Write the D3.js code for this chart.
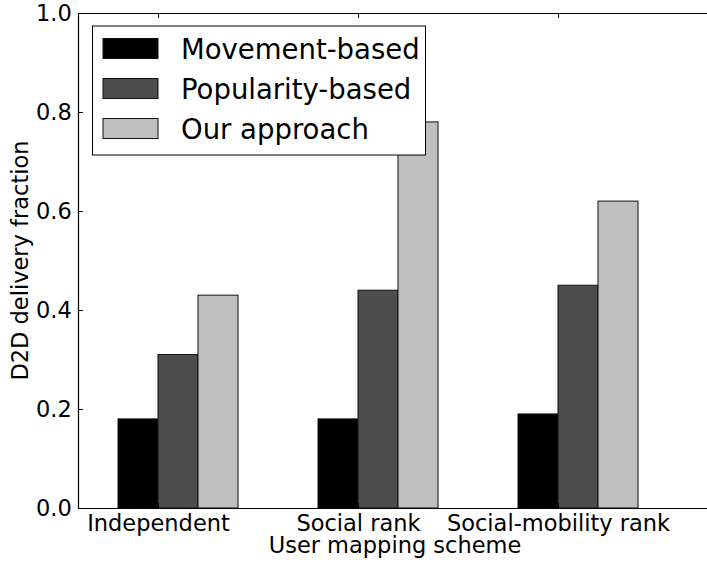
<!DOCTYPE html>
<html>
<head>
<meta charset="utf-8">
<script src="https://cdn.jsdelivr.net/npm/d3@7"></script>
<style>
  html, body { margin: 0; padding: 0; background: #fff; }
  svg { display: block; font-family: "DejaVu Sans", sans-serif; }
</style>
</head>
<body>
<svg id="chart" width="707" height="569"></svg>
<script>
const categories = ["Independent", "Social rank", "Social-mobility rank"];
const seriesNames = ["Movement-based", "Popularity-based", "Our approach"];
const movementBased = [0.18, 0.18, 0.19];
const popularityBased = [0.31, 0.44, 0.45];
const ourApproach = [0.43, 0.78, 0.62];
const yTicks = [0.0, 0.2, 0.4, 0.6, 0.8, 1.0];
const seriesColors = ["#000000", "#4d4d4d", "#bfbfbf"];

const series = [movementBased, popularityBased, ourApproach];

const svg = d3.select("#chart");
const plotL = 78, plotR = 712, plotT = 13, plotB = 508;
const barW = 0.2;

const x = d3.scaleLinear().domain([0, 3.17]).range([plotL, plotR]);
const y = d3.scaleLinear().domain([0, 1]).range([plotB, plotT]);

// bars
series.forEach((vals, s) => {
  svg.append("g").selectAll("rect")
    .data(vals)
    .join("rect")
    .attr("x", (d, i) => x(i + 0.2 + s * barW))
    .attr("width", x(barW) - x(0))
    .attr("y", d => y(d))
    .attr("height", d => y(0) - y(d))
    .attr("fill", seriesColors[s])
    .attr("stroke", "#111")
    .attr("stroke-width", 1);
});

// axes
const tickPos = categories.map((c, i) => i + 0.2 + barW);
const xAxis = d3.axisBottom(x).tickValues(tickPos)
  .tickFormat((d, i) => categories[i]).tickSizeInner(-5).tickSizeOuter(0).tickPadding(7);
const gx = svg.append("g").attr("transform", `translate(0,${plotB})`).call(xAxis);
const xTop = d3.axisTop(x).tickValues(tickPos).tickFormat("").tickSizeInner(-5).tickSizeOuter(0);
const gxt = svg.append("g").attr("transform", `translate(0,${plotT})`).call(xTop);

const yAxis = d3.axisLeft(y).tickValues(yTicks).tickFormat(d3.format(".1f"))
  .tickSizeInner(-5).tickSizeOuter(0).tickPadding(4);
const gy = svg.append("g").attr("transform", `translate(${plotL},0)`).call(yAxis);

[gx, gxt, gy].forEach(g => {
  g.selectAll("path.domain").attr("stroke", "#000").attr("stroke-width", 1.2);
  g.selectAll(".tick line").attr("stroke", "#000").attr("stroke-width", 1);
  g.selectAll(".tick text").attr("font-family", "DejaVu Sans").attr("font-size", 22.5).attr("fill", "#000");
});
gy.selectAll(".tick text").attr("dx", "-0.1em");

// axis labels
svg.append("text")
  .attr("x", (plotL + plotR) / 2).attr("y", 553)
  .attr("text-anchor", "middle").attr("font-size", 22.5)
  .text("User mapping scheme");
svg.append("text")
  .attr("transform", `translate(28,${(plotT + plotB) / 2}) rotate(-90)`)
  .attr("text-anchor", "middle").attr("font-size", 22.5)
  .text("D2D delivery fraction");

// legend
const lg = svg.append("g");
lg.append("rect").attr("x", 92.5).attr("y", 26).attr("width", 333).attr("height", 129)
  .attr("fill", "#fff").attr("stroke", "#000").attr("stroke-width", 1);
seriesNames.forEach((name, i) => {
  lg.append("rect").attr("x", 103).attr("y", 38.5 + i * 40).attr("width", 55).attr("height", 20)
    .attr("fill", seriesColors[i]).attr("stroke", "#111").attr("stroke-width", 1);
  lg.append("text").attr("x", 181).attr("y", 58.5 + i * 40)
    .attr("font-size", 27.5).attr("fill", "#000").text(name);
});
</script>
</body>
</html>
